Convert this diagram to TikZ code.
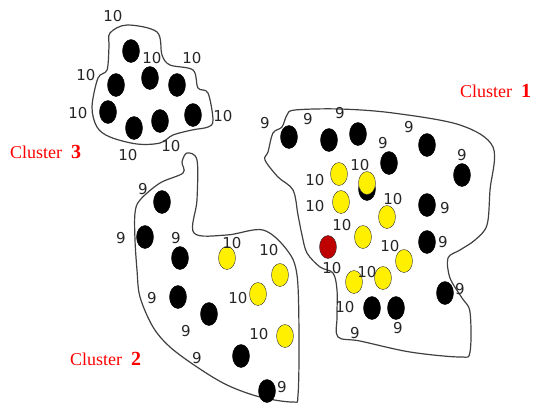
\documentclass[tikz,border=0pt]{standalone}
\usepackage{fontspec}
\setmainfont{Liberation Serif}
\newfontfamily\numfont{DejaVu Sans}
\usepackage{xcolor}
\usetikzlibrary{shapes.geometric, positioning}

\definecolor{dotyellow}{RGB}{255,240,0}
\definecolor{dotred}{RGB}{190,0,0}
\definecolor{clred}{RGB}{255,0,0}

\begin{document}
\begin{tikzpicture}[
    x=1pt, y=-1pt,
    every node/.style={font=\numfont\fontsize{15}{15}\selectfont},
    dot/.style={
        ellipse,
        draw=black,
        fill=black,
        minimum width=17pt,
        minimum height=23pt,
        inner sep=0pt
    },
    ydot/.style={dot, fill=dotyellow, draw=black!80, thin},
    rdot/.style={dot, fill=dotred, draw=black!80, thin},
    num/.style={inner sep=0pt, text=black!85},
    clabel/.style={anchor=west, inner sep=0pt, text=clred,
        font=\rmfamily\fontsize{18}{18}\selectfont},
    border/.style={draw=black!75, line width=1.2pt}
]
\useasboundingbox (0,0) rectangle (536,405);

% cluster borders
\draw [border] plot[smooth cycle, tension=0.55] coordinates {
    (110,33) (127,25) (157,32) (162,55) (170,65) (193,70) (198,88)
    (208,93) (213,120) (208,127) (192,130) (173,135) (160,143)
    (137,144) (110,137) (97,127) (92,107) (98,78) (107,70) (109,47)};
\draw [border] plot[smooth cycle, tension=0.55] coordinates {
    (295,110) (340,109) (393,113) (460,125) (493,147) (490,190)
    (487,225) (475,240) (460,250) (448,258) (450,278) (462,298)
    (470,312) (470,352) (460,357) (410,352) (360,341) (338,337)
    (337,317) (337,290) (333,273) (320,267) (307,253) (302,235)
    (298,215) (293,190) (278,177) (265,160) (268,152) (273,133)
    (282,127) (287,115)};
\draw [border] plot[smooth cycle, tension=0.55] coordinates {
    (187,153) (197,160) (197,200) (194,233) (227,235) (263,230)
    (287,250) (297,275) (299,337) (298,395) (293,402) (260,397)
    (227,385) (197,367) (170,347) (153,327) (140,297) (137,270)
    (135,240) (135,213) (140,200) (160,183) (183,173) (182,162)};

% cluster 3
\node (c3a) [dot] at (131,51) {};
\node (c3b) [dot] at (116,85) {};
\node (c3c) [dot] at (150,78) {};
\node (c3d) [dot] at (177,85) {};
\node (c3e) [dot] at (108,112) {};
\node (c3f) [dot] at (134,128) {};
\node (c3g) [dot] at (160,121) {};
\node (c3h) [dot] at (193,115) {};

\node (n3a) [num] at (113,16) {10};
\node (n3b) [num] at (152,58) {10};
\node (n3c) [num] at (192,58) {10};
\node (n3d) [num] at (86,75) {10};
\node (n3e) [num] at (78,113) {10};
\node (n3f) [num] at (223,116) {10};
\node (n3g) [num] at (171,146) {10};
\node (n3h) [num] at (128,155) {10};

% cluster 1
\node (c1a) [dot] at (289,137) {};
\node (c1b) [dot] at (329,140) {};
\node (c1c) [dot] at (358,134) {};
\node (c1d) [dot] at (389,163) {};
\node (c1e) [dot] at (427,145) {};
\node (c1f) [dot] at (462,175) {};
\node (c1g) [dot] at (367,189) {};
\node (c1h) [dot] at (427,205) {};
\node (c1i) [dot] at (427,242) {};
\node (c1j) [dot] at (445,293) {};
\node (c1k) [dot] at (372,308) {};
\node (c1l) [dot] at (396,308) {};
\node (y1a) [ydot] at (339,174) {};
\node (y1b) [ydot] at (367,183) {};
\node (y1c) [ydot] at (341,202) {};
\node (y1d) [ydot] at (387,217) {};
\node (y1e) [ydot] at (363,237) {};
\node (y1f) [ydot] at (404,261) {};
\node (y1g) [ydot] at (354,282) {};
\node (y1h) [ydot] at (383,278) {};
\node (r1) [rdot] at (328,247) {};

\node (n1a) [num] at (265,123) {9};
\node (n1b) [num] at (308,119) {9};
\node (n1c) [num] at (340,113) {9};
\node (n1d) [num] at (409,127) {9};
\node (n1e) [num] at (383,143) {9};
\node (n1f) [num] at (462,155) {9};
\node (n1g) [num] at (445,208) {9};
\node (n1h) [num] at (443,242) {9};
\node (n1i) [num] at (460,289) {9};
\node (n1j) [num] at (355,333) {9};
\node (n1k) [num] at (398,328) {9};
\node (n1l) [num] at (360,165) {10};
\node (n1m) [num] at (315,180) {10};
\node (n1n) [num] at (315,206) {10};
\node (n1o) [num] at (393,199) {10};
\node (n1p) [num] at (342,225) {10};
\node (n1q) [num] at (390,246) {10};
\node (n1r) [num] at (332,268) {10};
\node (n1s) [num] at (367,272) {10};
\node (n1t) [num] at (345,307) {10};

% cluster 2
\node (c2a) [dot] at (162,202) {};
\node (c2b) [dot] at (145,237) {};
\node (c2c) [dot] at (180,258) {};
\node (c2d) [dot] at (178,297) {};
\node (c2e) [dot] at (209,314) {};
\node (c2f) [dot] at (241,356) {};
\node (c2g) [dot] at (267,391) {};
\node (y2a) [ydot] at (227,258) {};
\node (y2b) [ydot] at (280,275) {};
\node (y2c) [ydot] at (258,294) {};
\node (y2d) [ydot] at (285,336) {};

\node (n2a) [num] at (143,189) {9};
\node (n2b) [num] at (121,238) {9};
\node (n2c) [num] at (176,238) {9};
\node (n2d) [num] at (152,298) {9};
\node (n2e) [num] at (186,331) {9};
\node (n2f) [num] at (197,358) {9};
\node (n2g) [num] at (282,387) {9};
\node (n2h) [num] at (232,243) {10};
\node (n2i) [num] at (269,250) {10};
\node (n2j) [num] at (238,298) {10};
\node (n2k) [num] at (259,334) {10};

% cluster names
\node (cl1) [clabel] at (460,91) {Cluster~~{\fontsize{20}{20}\selectfont\bfseries 1}};
\node (cl2) [clabel] at (70,359) {Cluster~~{\fontsize{20}{20}\selectfont\bfseries 2}};
\node (cl3) [clabel] at (10,152) {Cluster~~{\fontsize{20}{20}\selectfont\bfseries 3}};

\end{tikzpicture}
\end{document}
